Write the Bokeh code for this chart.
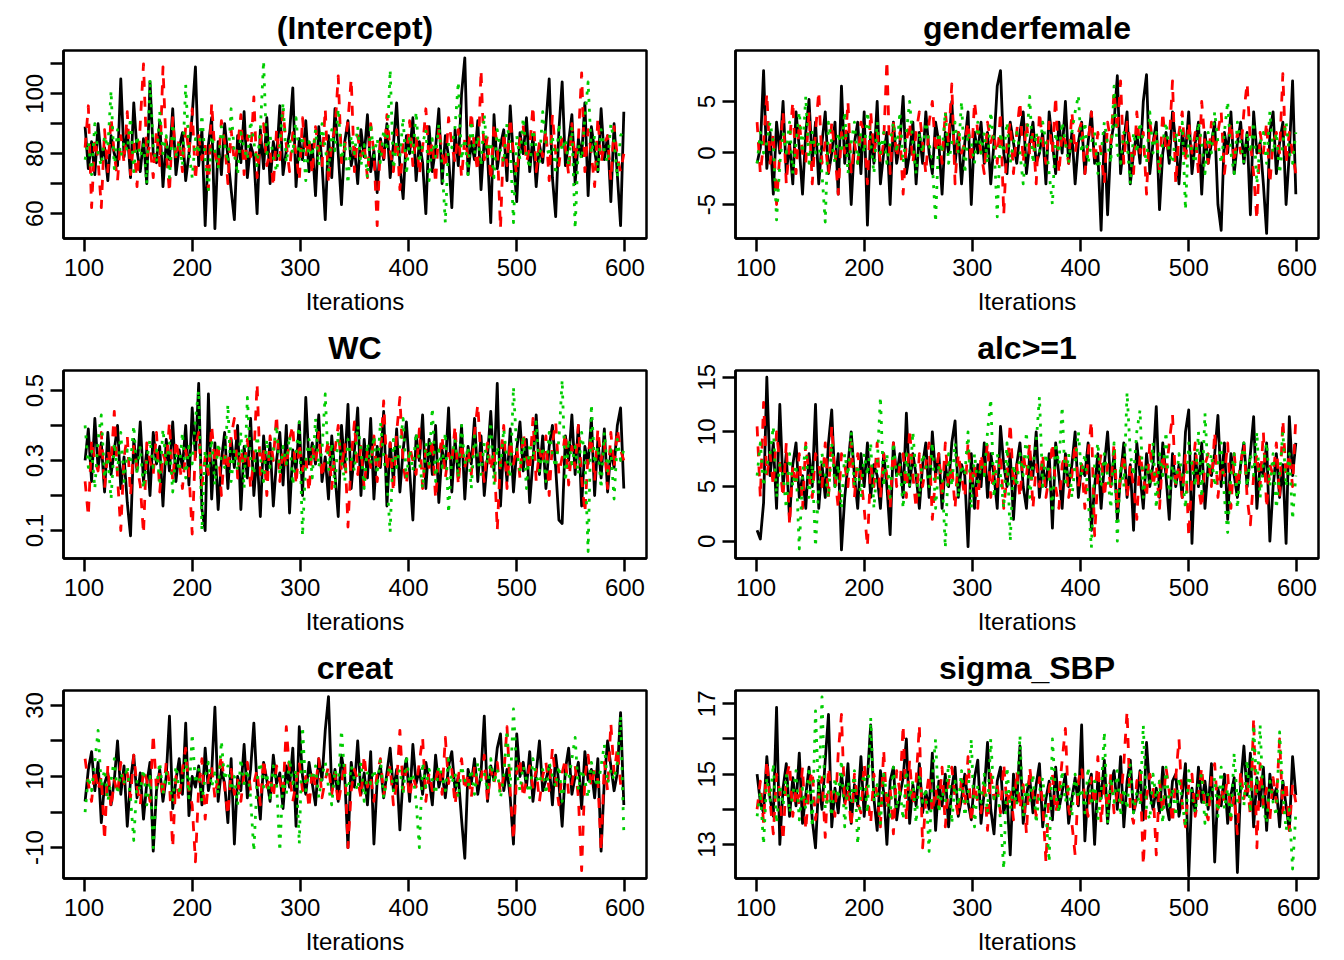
from bokeh.plotting import figure
from bokeh.layouts import gridplot
from bokeh.models import FixedTicker, Range1d
from bokeh.embed import file_html
from bokeh.resources import INLINE

FONT = "Liberation Sans"

FIRST_ITER = 101
ITER_STEP = 3
x_ticks = [100, 200, 300, 400, 500, 600]

param_names = ["(Intercept)", "genderfemale", "WC", "alc>=1", "creat", "sigma_SBP"]

intercept_c1 = [89, 75, 84, 73, 90, 78, 82, 71, 86, 80,
                76, 105, 79, 88, 72, 97, 81, 74, 85, 70,
                104, 80, 77, 91, 69, 84, 78, 95, 73, 82,
                87, 71, 80, 93, 109, 76, 88, 56, 83, 92,
                55, 84, 73, 90, 79, 68, 58, 86, 77, 94,
                72, 83, 79, 60, 88, 75, 92, 70, 84, 78,
                96, 73, 81, 87, 102, 69, 85, 78, 91, 74,
                83, 66, 89, 77, 58, 86, 72, 95, 80, 63,
                84, 91, 76, 82, 70, 88, 79, 93, 74, 81,
                67, 85, 78, 90, 72, 83, 97, 76, 65, 86,
                80, 92, 71, 84, 77, 60, 89, 74, 82, 95,
                70, 86, 79, 62, 88, 76, 100, 112, 73, 84,
                78, 91, 68, 85, 80, 57, 93, 75, 83, 88,
                71, 96, 78, 64, 87, 80, 92, 74, 86, 69,
                83, 77, 90, 105, 72, 59, 88, 104, 76, 84,
                93, 70, 85, 79, 97, 66, 89, 81, 74, 95,
                78, 86, 64, 90, 73, 56, 94]
intercept_c2 = [82, 96, 62, 85, 78, 62, 88, 74, 92, 80,
                71, 86, 77, 94, 73, 84, 69, 90, 110, 79,
                83, 72, 88, 76, 109, 81, 67, 92, 78, 85,
                74, 89, 80, 95, 71, 86, 78, 83, 68, 97,
                80, 75, 91, 84, 70, 88, 77, 82, 93, 73,
                86, 79, 99, 72, 84, 90, 76, 81, 69, 88,
                78, 94, 83, 74, 87, 80, 71, 92, 79, 85,
                73, 89, 81, 76, 95, 70, 84, 88, 106, 77,
                82, 91, 105, 74, 86, 79, 83, 72, 90, 80,
                56, 85, 77, 93, 81, 74, 88, 68, 84, 79,
                91, 76, 86, 73, 82, 95, 78, 84, 70, 89,
                80, 75, 92, 83, 77, 88, 72, 85, 79, 94,
                81, 74, 108, 78, 86, 71, 90, 83, 55, 87,
                76, 92, 80, 73, 85, 89, 77, 82, 96, 74,
                84, 79, 88, 71, 93, 80, 76, 86, 82, 73,
                90, 78, 85, 107, 74, 88, 80, 69, 92, 77,
                83, 86, 71, 89, 79, 74, 80]
intercept_c3 = [78, 84, 73, 90, 80, 76, 86, 82, 101, 75,
                88, 79, 84, 81, 92, 74, 86, 79, 83, 70,
                105, 82, 77, 94, 80, 86, 72, 90, 79, 84,
                76, 103, 81, 72, 85, 80, 93, 78, 68, 86,
                81, 75, 89, 83, 77, 95, 80, 73, 87, 82,
                78, 91, 84, 76, 88, 111, 80, 86, 79, 74,
                83, 97, 77, 85, 80, 92, 78, 86, 71, 84,
                79, 88, 76, 90, 82, 74, 88, 81, 95, 78,
                84, 70, 86, 80, 89, 76, 83, 72, 90, 79,
                85, 77, 88, 81, 108, 75, 84, 79, 92, 73,
                86, 80, 94, 77, 83, 88, 71, 85, 79, 90,
                76, 57, 84, 82, 89, 104, 78, 85, 73, 91,
                80, 86, 76, 93, 79, 84, 72, 88, 81, 77,
                90, 83, 57, 86, 78, 92, 80, 75, 88, 82,
                77, 94, 84, 79, 86, 73, 90, 81, 85, 76,
                89, 55, 83, 78, 92, 104, 80, 86, 74, 88,
                81, 77, 90, 84, 72, 86, 88]

gender_c1 = [-1, 0.5, 8, -1.5, 2, -4, 3, 0, 5, -2,
             1, -3, 4, 0.5, -4, 2, 5.2, -1, 3, -3,
             1, 4, -2, 0, 3, -4, 6.5, -1, 2, -5,
             1, 3, -2, 4, -7, 2, -1, 5, -3, 0,
             2, -5, 3, -1, 1, 5.5, -2, 0, 3, -3,
             2, -1, 4, 0, -2, 3, 1, -4, 2, 0,
             5, -1, 2, -3, 1, 4, -5, 2, 0, 3,
             -1, 2, -3, 1, 6.5, 8, 0, -2, 3, 1,
             -1, 2, 4, -2, 1, 3, -1, 0, 2, -3,
             4, 1, -2, 3, 0, 5, -1, 2, -3, 1,
             3, -2, 1, 4, -1, 0, -7.5, 2, -6, 1,
             3, 7.5, -2, 1, 4, -3, 0, 2, -1, 5,
             7.6, -2, 1, 3, -5.5, 0, 2, -1, 4, 1,
             -3, 2, 0, 4, -2, 1, 3, -4, 2, -1,
             1, 3, -5, -7.5, 2, 0, 4, -2, 1, 3,
             -1, 2, -6, 4, 0, 1, -3, -7.8, 2, 4,
             -2, 1, 3, -5, 0, 7, -4]
gender_c2 = [3, -2, 1, 5.8, -1, 2, -5, 0, 4, -3,
             1, 5, -2, 3, 0, -1, 4, -3, 2, 6,
             -1, 1, -2, 3, 0, -4, 2, 0, 5, -2,
             1, -1, 3, 2, -3, 4, 0, 2, -1, 1,
             9, -2, 3, -0.5, 2, -4, 1, 3, -1, 2,
             4, 1, -2, 3, 5, 0, 2, -1, 4, 1,
             6.7, -3, 2, 0, 1, 3, -1, 5, 2, 0,
             -2, 3, 1, 2, -1, 4, -6, 1, 3, -2,
             2, 5, -1, 3, 0, 2, -3, 4, 1, -1,
             3, 0, 5.5, -2, 2, 1, -1, 4, 0, 2,
             3, -2, 1, 4, -1, 2, 0, -3, 3, 1,
             6, 2, 7, -1, 3, 1, -2, 4, 0, 2,
             -4, 3, 1, 2, -2, 4, 0, 1, 7, -3,
             2, 4, -1, 3, 0, 2, -2, 5, 1, -1,
             3, 0, 2, 4, -2, 1, 3, -1, 2, 0,
             4, 6.8, 1, -2, -6.5, 2, 0, 3, -3, 1,
             2, 0, 7.7, -1, 2, 0, -2]
gender_c3 = [-1, 2, 0, 1, 3, 1, -6.5, -1, 2, 0,
             3, -2, 1, 4, 0, 5.5, -1, 2, 0, 1,
             -2, -6.7, 3, 1, -1, 2, 0, 4, -2, 1,
             3, -1, 2, 0, 4, 1, -2, 3, 0, 2,
             -1, 1, 3, 0, 4, -1, 2, 5, 1, -2,
             2, 0, 3, 1, -1, -6.7, 2, 0, 4, -1,
             1, 3, 0, 5, -2, 2, 1, -1, 3, 0,
             2, -1, 4, 1, -6.2, 2, 0, 3, -1, 1,
             2, 0, -3, 1, 5.5, -1, 2, 0, 3, 1,
             -2, -5, 2, 0, 3, 1, -1, 2, 4, 5.6,
             0, 3, -1, 1, 2, -2, 0, 3, 1, -1,
             6.5, 0, -1, 2, 1, -3, 2, 0, 3, 1,
             -1, 4, 0, 2, -2, 1, 3, 0, -1, 2,
             1, 3, -5.5, 2, 0, -1, 3, 1, -2, 2,
             0, 4, 1, -1, 2, 5, 0, -2, 3, 1,
             -1, 2, 0, 3, -3, 1, 2, -1, 4, 0,
             2, -2, 1, 3, 0, -1, 2]

wc_c1 = [0.30, 0.39, 0.24, 0.42, 0.28, 0.35, 0.21, 0.38, 0.26, 0.33,
         0.40, 0.22, 0.31, 0.18, 0.085, 0.36, 0.27, 0.41, 0.24, 0.33,
         0.20, 0.38, 0.29, 0.34, 0.17, 0.36, 0.27, 0.41, 0.24, 0.33,
         0.28, 0.40, 0.23, 0.45, 0.31, 0.52, 0.16, 0.10, 0.49, 0.19,
         0.35, 0.16, 0.30, 0.38, 0.22, 0.36, 0.28, 0.40, 0.16, 0.34,
         0.25, 0.42, 0.20, 0.32, 0.14, 0.37, 0.26, 0.35, 0.17, 0.30,
         0.38, 0.23, 0.40, 0.15, 0.33, 0.27, 0.41, 0.20, 0.48, 0.29,
         0.35, 0.29, 0.43, 0.24, 0.31, 0.19, 0.37, 0.26, 0.14, 0.40,
         0.28, 0.46, 0.22, 0.33, 0.45, 0.20, 0.36, 0.25, 0.42, 0.19,
         0.34, 0.28, 0.44, 0.17, 0.35, 0.24, 0.39, 0.21, 0.33, 0.41,
         0.27, 0.13, 0.37, 0.30, 0.43, 0.22, 0.36, 0.26, 0.40, 0.18,
         0.33, 0.28, 0.45, 0.21, 0.36, 0.25, 0.40, 0.19, 0.34, 0.29,
         0.42, 0.24, 0.37, 0.20, 0.31, 0.44, 0.27, 0.52, 0.17, 0.35,
         0.24, 0.39, 0.21, 0.33, 0.41, 0.27, 0.36, 0.18, 0.30, 0.43,
         0.26, 0.37, 0.22, 0.34, 0.40, 0.28, 0.13, 0.12, 0.37, 0.30,
         0.43, 0.26, 0.40, 0.17, 0.34, 0.29, 0.42, 0.20, 0.36, 0.25,
         0.39, 0.21, 0.33, 0.28, 0.40, 0.45, 0.22]
wc_c2 = [0.24, 0.14, 0.36, 0.30, 0.27, 0.38, 0.22, 0.33, 0.29, 0.44,
         0.25, 0.10, 0.31, 0.37, 0.20, 0.34, 0.28, 0.23, 0.09, 0.35,
         0.30, 0.26, 0.38, 0.21, 0.32, 0.29, 0.41, 0.24, 0.36, 0.30,
         0.22, 0.33, 0.27, 0.09, 0.34, 0.38, 0.23, 0.31, 0.26, 0.40,
         0.29, 0.35, 0.20, 0.33, 0.27, 0.37, 0.42, 0.25, 0.33, 0.28,
         0.36, 0.22, 0.31, 0.52, 0.26, 0.34, 0.20, 0.37, 0.30, 0.43,
         0.24, 0.33, 0.28, 0.36, 0.40, 0.23, 0.35, 0.27, 0.31, 0.21,
         0.34, 0.29, 0.38, 0.25, 0.31, 0.36, 0.22, 0.33, 0.40, 0.27,
         0.35, 0.11, 0.31, 0.41, 0.26, 0.34, 0.22, 0.33, 0.28, 0.37,
         0.24, 0.32, 0.47, 0.27, 0.35, 0.21, 0.38, 0.48, 0.29, 0.23,
         0.34, 0.30, 0.26, 0.39, 0.22, 0.33, 0.28, 0.36, 0.19, 0.31,
         0.37, 0.25, 0.32, 0.29, 0.40, 0.23, 0.35, 0.28, 0.33, 0.26,
         0.38, 0.46, 0.30, 0.24, 0.35, 0.27, 0.33, 0.10, 0.31, 0.40,
         0.22, 0.36, 0.29, 0.34, 0.25, 0.38, 0.31, 0.27, 0.42, 0.24,
         0.33, 0.29, 0.37, 0.20, 0.35, 0.41, 0.26, 0.31, 0.38, 0.23,
         0.34, 0.28, 0.40, 0.25, 0.15, 0.32, 0.37, 0.24, 0.39, 0.30,
         0.35, 0.22, 0.38, 0.28, 0.39, 0.33, 0.30]
wc_c3 = [0.40, 0.28, 0.33, 0.22, 0.36, 0.43, 0.25, 0.31, 0.19, 0.35,
         0.27, 0.38, 0.24, 0.33, 0.29, 0.40, 0.26, 0.34, 0.22, 0.30,
         0.36, 0.28, 0.33, 0.24, 0.39, 0.29, 0.35, 0.21, 0.32, 0.27,
         0.38, 0.25, 0.34, 0.29, 0.42, 0.50, 0.10, 0.33, 0.27, 0.36,
         0.23, 0.35, 0.30, 0.28, 0.46, 0.24, 0.33, 0.27, 0.38, 0.22,
         0.48, 0.30, 0.26, 0.37, 0.31, 0.24, 0.36, 0.28, 0.33, 0.40,
         0.26, 0.34, 0.29, 0.37, 0.23, 0.32, 0.41, 0.085, 0.30, 0.36,
         0.25, 0.42, 0.28, 0.33, 0.49, 0.27, 0.35, 0.22, 0.38, 0.30,
         0.24, 0.36, 0.31, 0.27, 0.40, 0.33, 0.22, 0.35, 0.29, 0.37,
         0.26, 0.41, 0.31, 0.24, 0.095, 0.36, 0.28, 0.34, 0.42, 0.25,
         0.33, 0.27, 0.38, 0.30, 0.22, 0.35, 0.29, 0.45, 0.24, 0.33,
         0.28, 0.38, 0.15, 0.31, 0.36, 0.25, 0.40, 0.29, 0.34, 0.22,
         0.37, 0.30, 0.26, 0.35, 0.29, 0.41, 0.23, 0.34, 0.28, 0.39,
         0.30, 0.25, 0.51, 0.33, 0.27, 0.37, 0.22, 0.35, 0.30, 0.41,
         0.27, 0.34, 0.24, 0.38, 0.32, 0.28, 0.36, 0.53, 0.24, 0.36,
         0.29, 0.34, 0.26, 0.38, 0.31, 0.04, 0.46, 0.29, 0.34, 0.22,
         0.38, 0.27, 0.33, 0.19, 0.36, 0.30, 0.33]

alc_c1 = [1.0, 0.2, 3.5, 15.0, 6, 9, 3, 12.5, 5, 8,
          2, 7, 9, 4, 6, 3, 8, 5, 12.5, 3,
          7, 4, 9, 12, 5, 8, -0.8, 4, 7, 10,
          6, 3, 8, 5, 9, 4, 7, 6, 3, 8,
          5, 0.6, 9, 6, 8, 4, 11.7, 5, 8, 6,
          3, 7, 9, 4, 10, 6, 8, 3, 7, 5,
          9, 11, 4, 7, 6, -0.5, 8, 3, 7, 5,
          9, 4, 8, 6, 3, 10.5, 7, 5, 8, 2,
          7, 9, 5, 3, 8, 6, 10, 4, 7, 5,
          8, 1.2, 9, 6, 3, 8, 5, 7, 10, 4,
          7, 6, 9, 1.0, 5, 8, 3, 7, 10, 5,
          8, 2, 6, 9, 4, 7, 1, 9, 6, 3,
          8, 5, 7, 12.3, 4, 9, 6, 2, 8, 5,
          7, 4, 10, 12, -0.2, 8, 5, 9, 3, 7,
          6, 8, 11.5, 5, 9, 2, 8, 6, 4, 7,
          9, 5, 8, 11.4, 3, 7, 6, 9, 0, 5,
          8, 4, 7, -0.2, 11.4, 6, 9]
alc_c2 = [10.5, 4, 12.7, 6, 8, 5, 10, 7, 4, 9,
          1.5, 7, 5, 8, 3, 9, 6, 4, 8, 7,
          5, 9, 4, 10.5, 6, 3, 8, 7, 5, 9,
          4, 8, 6, 3, -0.5, 7, 5, 9, 4, 8,
          6, 3, 9, 5, 7, 8, 4, 10.3, 6, 3,
          8, 5, 7, 9, 2, 6, 8, 4, 9, 5,
          7, 3, 8, 6, 4, 9, 5, 7, 3, 8,
          6, 9, 4, 7, 5, 8, 3, 6, 10.8, 5,
          7, 4, 8, 6, 9, 3, 7, 5, 8, 4,
          6, 9, 5, 3, 7, 8, 4, 6, 9, 5,
          7, 3, 8, 11, 0.5, 6, 8, 4, 7, 5,
          9, 3, 6, 8, 4, 7, 5, 2, 8, 6,
          4, 9, 5, 7, 3, 8, 6, 9, 11.6, 5,
          7, 4, 8, 0.4, 6, 9, 5, 3, 7, 8,
          5, 10, 4, 7, 6, 9, 3, 8, 5, 7,
          9, 4, 1.5, 6, 8, 5, 10, 3, 7, 6,
          9, 4, 11.1, 6, 8, 5, 11.3]
alc_c3 = [6, 9, 5, 7, 8, 10.5, 4, 7, 6, 3,
          8, 5, 7, -0.7, 6, 9, 4, 7, -0.5, 5,
          8, 6, 4, 9, 5, 7, 3, 8, 6, 10,
          5, 7, 4, 8, 6, 9, 3, 7, 13.2, 5,
          8, 4, 9, 6, 7, 3, 8, 5, 10, 6,
          4, 8, 7, 5, 9, 3, 7, 6, -0.6, 8,
          5, 9, 4, 7, 6, 10, 3, 8, 5, 7,
          6, 10, 13, 4, 8, 6, 3, 9, 0, 7,
          5, 8, 6, 10, 4, 7, 9, 13.2, 5, 8,
          6, 3, 9, 7, 12.3, 5, 8, 4, 7, 10,
          6, 8, 4, -0.6, 7, 9, 5, 8, 6, 3,
          9, 0, 7, 5, 13.6, 8, 6, 10, 12, 4,
          7, 5, 9, 3, 8, 6, 10, 4, 7, 5,
          8, 6, 3, 9, 7, 5, 10, 4, 11.7, 6,
          8, 5, 7, 9, 4, 0.8, 6, 8, 3, 7,
          9, 5, 8, 6, 10, 4, 7, 9, 5, 8,
          3, 6, 10, 5, 8, 2, 6]

creat_c1 = [3, 12, 17, 6, 14, -3, 8, 11, 2, 9,
            20, 5, 13, -4, 9, 16, 4, 11, -2, 8,
            14, -11, 6, 12, 3, 10, 27, 1, 9, 15,
            5, 25, -1, 10, 7, 13, 2, 18, 6, 11,
            29.5, 3, 12, 8, -3, 15, -9, 10, 6, 19,
            4, 12, 25, 7, -2, 14, 9, 3, 16, 8,
            11, 1, 13, 7, 18, -4, 24, 10, 5, 14,
            8, 2, 15, 9, 23, 32.5, 6, 12, 3, 16,
            10, -10, 14, 7, 20, 5, 11, 2, 17, -9,
            9, 13, 4, 11, 18, 6, 12, -5, 10, 15,
            3, 19, 8, 12, 5, 14, 9, 2, 16, 7,
            11, 4, 13, 17, 6, 10, -2, -13, 12, 8,
            15, 5, 11, 27, 3, 13, 9, 18, 22, 6,
            12, 4, -9, 22, 10, 14, 7, 17, 3, 11,
            20, 6, 9, 13, 2, 16, 8, -4, 12, 18,
            5, 10, 14, 1, 17, 9, 12, 4, 15, -11,
            9, 20, 13, 6, 11, 28, 2]
creat_c2 = [15, 8, 3, 12, 6, 10, -8, 13, 1, 9,
            5, 14, 8, 11, 4, 16, 7, 2, 12, 9,
            3, 22, 6, 11, 4, 14, 8, -10, 10, 3,
            12, 18, 6, 2, -14, 7, 15, -2, 9, 13,
            4, 10, 16, 7, -1, 12, 5, 9, 3, 11,
            14, 6, 8, 12, 2, 15, 7, 10, 4, 13,
            9, 5, 24, 11, 3, 8, 14, 6, 10, 1,
            12, 7, 15, 4, 9, 13, 5, 11, 2, 8,
            14, -10, 6, 12, 9, 4, 16, 7, 10, 3,
            11, 15, 5, 9, 13, 2, 8, 23, 6, 12,
            4, 10, 7, 14, 21, 3, 11, 6, 9, 13,
            5, 21, 8, 12, 2, 10, 15, 6, 11, 4,
            13, 7, 9, 16, 3, 12, 8, 14, 5, 10,
            24, 6, -8, 11, 15, 4, 9, 13, 7, 12,
            3, 10, 14, 6, 18, 9, 2, 11, 15, 5,
            8, 13, 4, -16.5, 10, 16, 7, 12, 9, -11,
            14, 6, 25, 11, 18, 8, 5]
creat_c3 = [0, 10, 6, 14, 23, 7, 12, 3, 9, 15,
            5, 11, 8, 13, 4, -8, 9, 6, 12, 2,
            10, -10, 7, 14, 5, 11, 8, 3, 13, 6,
            9, 15, 4, 22, 8, 12, 3, 10, 14, 7,
            11, 5, 20, 9, 13, 6, 10, 2, 15, 8,
            12, 4, -11, 9, 14, 7, 11, 3, 13, 8,
            -11, 10, 5, 15, 8, 12, -9, 24, 6, 11,
            9, 13, 4, 10, 14, 7, 2, 12, 8, 23,
            10, 5, 13, 9, 6, 14, 3, 11, 8, 12,
            7, 15, 4, 10, 13, 6, 9, 12, 5, 16,
            8, 11, 3, -10, 14, 7, 12, 9, 5, 13,
            10, 6, 15, 8, 11, 4, 13, 9, 7, 12,
            5, 14, 9, 11, 6, 15, 8, 12, 4, 10,
            23, 7, 29, 11, 6, 13, 9, 4, 15, 10,
            8, 12, 5, 14, 10, 7, 13, 3, 11, 9,
            15, 21, 6, 12, 9, 4, 14, 10, 7, 13,
            19, 8, 12, 9, 14, 27, -6]

sigma_c1 = [15.0, 14.2, 13.9, 15.5, 14.3, 13.8, 16.9, 13.0, 14.6, 15.3,
            13.8, 14.9, 14.1, 15.6, 13.6, 14.4, 15.2, 13.7, 12.9, 14.8,
            14.0, 15.4, 16.7, 13.5, 14.6, 13.9, 15.0, 14.2, 15.3, 13.6,
            14.7, 14.1, 15.5, 13.8, 14.9, 16.4, 14.3, 13.4, 15.1, 14.5,
            13.0, 14.8, 15.2, 13.7, 14.4, 14.9, 16.0, 13.6, 14.7, 14.1,
            15.3, 13.9, 14.5, 14.0, 15.6, 13.4, 14.8, 14.1, 15.0, 13.5,
            14.6, 15.2, 13.8, 14.3, 15.0, 14.2, 13.7, 14.9, 15.4, 13.6,
            14.5, 15.9, 14.0, 13.3, 14.8, 15.2, 13.9, 14.4, 12.7, 15.0,
            14.2, 15.8, 13.6, 14.4, 14.9, 13.9, 14.7, 15.3, 13.5, 14.3,
            14.8, 13.7, 15.2, 14.0, 14.5, 15.0, 13.6, 14.3, 14.9, 14.1,
            16.4, 13.1, 14.6, 15.0, 13.0, 14.9, 14.3, 15.4, 13.6, 14.7,
            15.1, 14.0, 15.5, 13.5, 14.8, 15.4, 13.9, 14.3, 15.1, 13.7,
            15.9, 14.5, 14.0, 14.6, 13.9, 15.2, 14.2, 13.7, 14.8, 15.0,
            13.8, 14.4, 15.3, 12.1, 14.6, 13.9, 15.2, 14.2, 14.8, 14.0,
            15.3, 12.5, 14.6, 14.1, 15.0, 13.6, 14.4, 14.9, 12.2, 14.7,
            15.8, 14.4, 15.6, 13.5, 14.9, 14.1, 15.2, 13.4, 15.0, 14.3,
            14.6, 13.5, 14.8, 14.1, 13.4, 15.5, 14.4]
sigma_c2 = [14.0, 14.8, 13.6, 15.4, 14.2, 13.3, 15.0, 14.5, 13.1, 14.9,
            15.3, 13.8, 14.6, 14.1, 15.2, 13.4, 14.7, 15.1, 13.7, 14.4,
            14.9, 13.2, 15.2, 14.3, 13.8, 15.6, 16.7, 14.1, 14.6, 13.5,
            15.0, 14.2, 13.9, 15.3, 14.4, 13.6, 15.0, 14.4, 13.5, 15.7,
            14.0, 14.6, 13.3, 15.1, 14.5, 16.4, 13.7, 15.4, 14.1, 14.8,
            16.4, 12.9, 14.3, 15.0, 13.9, 14.6, 14.0, 15.2, 13.5, 14.8,
            15.2, 14.3, 13.8, 14.9, 14.1, 15.5, 13.6, 14.7, 14.2, 13.9,
            14.8, 13.4, 15.0, 14.3, 14.7, 13.9, 15.3, 14.1, 14.6, 13.7,
            15.1, 14.0, 14.7, 13.3, 15.2, 14.4, 13.8, 14.9, 14.2, 12.5,
            14.6, 15.0, 13.9, 14.4, 15.4, 16.3, 14.0, 13.6, 12.7, 14.8,
            15.2, 14.3, 13.8, 14.9, 14.1, 15.5, 13.6, 14.7, 14.0, 15.0,
            13.9, 14.5, 14.2, 15.3, 16.8, 14.0, 13.6, 14.8, 15.1, 12.4,
            14.3, 15.0, 14.6, 12.7, 14.8, 13.9, 15.2, 14.5, 13.6, 14.9,
            16.0, 14.1, 13.5, 14.7, 15.0, 13.8, 14.4, 15.2, 14.0, 13.7,
            14.9, 15.3, 13.9, 14.6, 14.2, 15.0, 13.7, 14.4, 13.3, 15.1,
            14.3, 14.8, 13.8, 16.6, 12.9, 15.3, 14.1, 14.6, 13.7, 14.9,
            14.2, 16.0, 13.9, 14.8, 13.4, 14.7, 14.2]
sigma_c3 = [13.8, 14.5, 13.0, 14.9, 14.2, 15.3, 13.6, 14.7, 14.1, 15.0,
            13.9, 14.4, 15.1, 13.7, 14.6, 14.0, 15.2, 13.5, 16.8, 14.3,
            17.2, 14.0, 14.5, 13.8, 14.9, 14.3, 15.4, 13.5, 14.8, 14.2,
            15.1, 13.0, 14.6, 15.0, 13.9, 16.6, 14.2, 14.7, 13.6, 15.0,
            14.4, 13.8, 15.2, 14.0, 14.6, 13.7, 15.1, 14.3, 14.8, 13.6,
            15.0, 14.2, 14.6, 12.8, 14.9, 16.0, 13.9, 14.5, 14.2, 15.3,
            13.6, 14.8, 14.1, 15.1, 13.8, 14.4, 16.0, 13.5, 14.7, 14.2,
            15.0, 13.9, 16.0, 14.3, 14.6, 13.7, 12.3, 15.2, 14.0, 14.6,
            14.1, 16.1, 13.8, 14.7, 14.2, 15.0, 13.6, 14.5, 14.9, 13.9,
            12.5, 16.0, 14.4, 13.9, 15.1, 14.2, 14.7, 13.8, 15.0, 14.3,
            14.6, 13.9, 15.2, 14.1, 14.8, 13.7, 14.4, 16.2, 13.6, 14.9,
            14.2, 15.1, 13.8, 14.6, 14.0, 15.3, 13.9, 14.5, 14.1, 16.4,
            14.0, 13.7, 15.0, 14.3, 14.8, 13.6, 15.2, 14.1, 14.6, 13.8,
            14.9, 14.2, 13.5, 15.1, 14.4, 13.9, 14.7, 15.0, 13.6, 14.5,
            14.3, 14.9, 13.8, 15.2, 14.0, 14.6, 13.7, 15.6, 14.2, 14.8,
            14.1, 15.4, 13.9, 16.4, 14.5, 16.4, 14.0, 13.6, 14.8, 14.2,
            13.8, 16.2, 14.5, 13.4, 14.0, 12.3, 13.9]

# y-axis ticks (labelled / unlabelled, as R drops overlapping labels)
y_labelled = [[60, 80, 100], [-5, 0, 5], [0.1, 0.3, 0.5], [0, 5, 10, 15], [-10, 10, 30], [13, 15, 17]]
y_unlabelled = [[70, 90, 110], [], [0.2, 0.4], [], [0, 20], [14, 16]]

# ---------------- style / layout ----------------
chain_colors = ["#000000", "#FF0000", "#00CD00"]
chain_dashes = ["solid", "10 10", "3 7"]
y_ranges = [(51.7, 114.45), (-8.3, 9.95), (0.02, 0.557), (-1.58, 15.61), (-18.7, 34.2), (12.03, 17.38)]
X_RANGE = (81.04, 619.96)

all_chains = [
    [intercept_c1, intercept_c2, intercept_c3],
    [gender_c1, gender_c2, gender_c3],
    [wc_c1, wc_c2, wc_c3],
    [alc_c1, alc_c2, alc_c3],
    [creat_c1, creat_c2, creat_c3],
    [sigma_c1, sigma_c2, sigma_c3],
]

FIG_W = 672
FIG_H = 320
FRAME_W = 583
FRAME_H = 188
LEFT_B = 63
TOP_B = 50
LW = 2.5
DATA_LW = 2.8


def make_panel(k):
    p = figure(width=FIG_W, height=FIG_H,
               x_range=Range1d(*X_RANGE), y_range=Range1d(*y_ranges[k]),
               output_backend="svg", toolbar_location=None,
               min_border_left=LEFT_B, min_border_right=FIG_W - LEFT_B - FRAME_W,
               min_border_top=TOP_B, min_border_bottom=FIG_H - TOP_B - FRAME_H,
               title=param_names[k])
    p.title.align = "center"
    p.title.text_font = FONT
    p.title.text_font_size = "32px"
    p.title.text_font_style = "bold"
    p.title.text_color = "black"
    p.title.standoff = 9
    p.xgrid.visible = False
    p.ygrid.visible = False
    p.outline_line_color = "black"
    p.outline_line_width = LW
    p.outline_line_alpha = 1.0
    p.background_fill_color = "white"
    p.border_fill_color = "white"

    for ci, vals in enumerate(all_chains[k]):
        xs = [FIRST_ITER + ITER_STEP * i for i in range(len(vals))]
        p.line(xs, vals, line_color=chain_colors[ci], line_width=DATA_LW,
               line_dash=chain_dashes[ci], line_join="round")

    xa = p.xaxis[0]
    xa.ticker = FixedTicker(ticks=x_ticks)
    xa.axis_label = "Iterations"
    ya = p.yaxis[0]
    ya.ticker = FixedTicker(ticks=y_labelled[k], minor_ticks=y_unlabelled[k])
    ya.major_label_orientation = "vertical"
    ya.major_label_overrides = {t: ("-" + str(abs(t))) for t in y_labelled[k] if t < 0}

    for ax in (xa, ya):
        ax.axis_line_color = "black"
        ax.axis_line_width = LW
        ax.major_tick_line_color = "black"
        ax.major_tick_line_width = LW
        ax.major_tick_in = 0
        ax.major_tick_out = 13
        ax.minor_tick_line_color = "black"
        ax.minor_tick_line_width = LW
        ax.minor_tick_in = 0
        ax.minor_tick_out = 13
        ax.major_label_text_font = FONT
        ax.major_label_text_font_size = "24px"
        ax.major_label_text_color = "black"
        ax.axis_label_text_font = FONT
        ax.axis_label_text_font_size = "24px"
        ax.axis_label_text_font_style = "normal"
        ax.axis_label_text_color = "black"
    xa.major_label_standoff = 7
    xa.axis_label_standoff = 9
    ya.major_label_standoff = 7
    return p


panels = [make_panel(k) for k in range(6)]
grid = gridplot([[panels[0], panels[1]], [panels[2], panels[3]], [panels[4], panels[5]]],
                toolbar_location=None)

open("out.html", "w").write(file_html(grid, INLINE))
